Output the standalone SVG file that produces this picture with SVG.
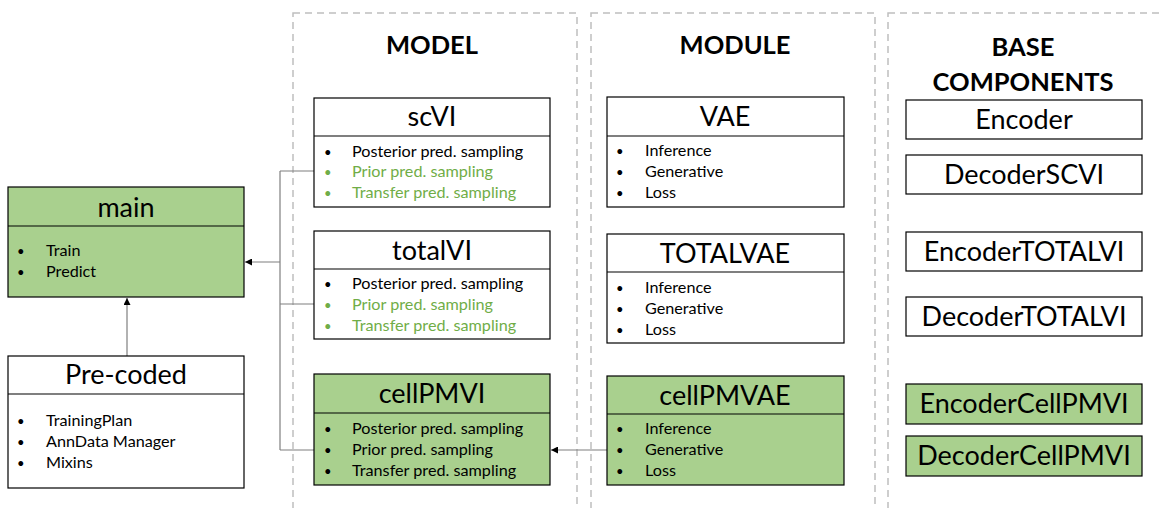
<svg xmlns="http://www.w3.org/2000/svg" width="1161" height="508" viewBox="0 0 1161 508">
<style>
text{font-family:"Lato","Open Sans","Liberation Sans",sans-serif;fill:#000}
.col{fill:none;stroke:#bfbfbf;stroke-width:1.5;stroke-dasharray:7 5}
.box{fill:#fff;stroke:#000;stroke-width:1.2}
.g{fill:#a9d08e}
.div{stroke:#000;stroke-width:1.2}
.hdr{font-size:25.5px;font-weight:bold;text-anchor:middle}
.ttl{font-size:27px;text-anchor:middle}
.it{font-size:16.2px}
.bu{font-size:13px}
.gt{fill:#70ad47}
.bt{font-size:27px;text-anchor:middle}
.cn{fill:none;stroke:#7f7f7f;stroke-width:1.2}
</style>
<defs>
<marker id="ah" viewBox="0 0 10 10" refX="10" refY="5" markerWidth="7" markerHeight="7" markerUnits="userSpaceOnUse" orient="auto">
<path d="M0,0 L10,5 L0,10 z" fill="#000"/>
</marker>
</defs>
<rect width="1161" height="508" fill="#fff"/>
<g id="columns">
<rect class="col" x="293" y="13" width="284" height="510"/>
<rect class="col" x="591" y="13" width="284" height="510"/>
<rect class="col" x="888" y="13" width="290" height="510"/>
<text class="hdr" x="432" y="54">MODEL</text>
<text class="hdr" x="735" y="54">MODULE</text>
<text class="hdr" x="1023" y="56">BASE</text>
<text class="hdr" x="1023" y="91">COMPONENTS</text>
</g>
<g id="connectors">
<path class="cn" d="M280,171 L280,450"/>
<path class="cn" d="M280,171 L314,171"/>
<path class="cn" d="M280,304 L314,304"/>
<path class="cn" d="M280,450 L314,450"/>
<path class="cn" d="M280,262 L245,262" marker-end="url(#ah)"/>
<path class="cn" d="M127,356 L127,298" marker-end="url(#ah)"/>
<path class="cn" d="M607,450 L551,450" marker-end="url(#ah)"/>
</g>
<g id="main">
<rect class="box g" x="8" y="187" width="236" height="110"/>
<line class="div" x1="8" y1="226" x2="244" y2="226"/>
<text class="ttl" x="126" y="217">main</text>
<text class="bu" x="17" y="256">•</text><text class="it" x="46" y="256">Train</text>
<text class="bu" x="17" y="277">•</text><text class="it" x="46" y="277">Predict</text>
</g>
<g id="precoded">
<rect class="box" x="8" y="356" width="236" height="132"/>
<line class="div" x1="8" y1="394" x2="244" y2="394"/>
<text class="ttl" x="126" y="384">Pre-coded</text>
<text class="bu" x="17" y="426">•</text><text class="it" x="46" y="426">TrainingPlan</text>
<text class="bu" x="17" y="447">•</text><text class="it" x="46" y="447">AnnData Manager</text>
<text class="bu" x="17" y="468">•</text><text class="it" x="46" y="468">Mixins</text>
</g>
<g id="scvi">
<rect class="box" x="314" y="98" width="236" height="109"/>
<line class="div" x1="314" y1="136" x2="550" y2="136"/>
<text class="ttl" x="432" y="126">scVI</text>
<text class="bu" x="324" y="157">•</text><text class="it" x="352" y="157">Posterior pred. sampling</text>
<text class="bu gt" x="324" y="177">•</text><text class="it gt" x="352" y="177">Prior pred. sampling</text>
<text class="bu gt" x="324" y="198">•</text><text class="it gt" x="352" y="198">Transfer pred. sampling</text>
</g>
<g id="totalvi">
<rect class="box" x="314" y="231" width="236" height="108"/>
<line class="div" x1="314" y1="269" x2="550" y2="269"/>
<text class="ttl" x="432" y="260">totalVI</text>
<text class="bu" x="324" y="289">•</text><text class="it" x="352" y="289">Posterior pred. sampling</text>
<text class="bu gt" x="324" y="310">•</text><text class="it gt" x="352" y="310">Prior pred. sampling</text>
<text class="bu gt" x="324" y="331">•</text><text class="it gt" x="352" y="331">Transfer pred. sampling</text>
</g>
<g id="cellpmvi">
<rect class="box g" x="314" y="374" width="236" height="111"/>
<line class="div" x1="314" y1="413" x2="550" y2="413"/>
<text class="ttl" x="432" y="403">cellPMVI</text>
<text class="bu" x="324" y="434">•</text><text class="it" x="352" y="434">Posterior pred. sampling</text>
<text class="bu" x="324" y="455">•</text><text class="it" x="352" y="455">Prior pred. sampling</text>
<text class="bu" x="324" y="476">•</text><text class="it" x="352" y="476">Transfer pred. sampling</text>
</g>
<g id="vae">
<rect class="box" x="607" y="97" width="237" height="110"/>
<line class="div" x1="607" y1="136" x2="844" y2="136"/>
<text class="ttl" x="725" y="126">VAE</text>
<text class="bu" x="616" y="156">•</text><text class="it" x="645" y="156">Inference</text>
<text class="bu" x="616" y="177">•</text><text class="it" x="645" y="177">Generative</text>
<text class="bu" x="616" y="198">•</text><text class="it" x="645" y="198">Loss</text>
</g>
<g id="totalvae">
<rect class="box" x="607" y="234" width="237" height="109"/>
<line class="div" x1="607" y1="272" x2="844" y2="272"/>
<text class="ttl" x="725" y="263">TOTALVAE</text>
<text class="bu" x="616" y="293">•</text><text class="it" x="645" y="293">Inference</text>
<text class="bu" x="616" y="314">•</text><text class="it" x="645" y="314">Generative</text>
<text class="bu" x="616" y="335">•</text><text class="it" x="645" y="335">Loss</text>
</g>
<g id="cellpmvae">
<rect class="box g" x="607" y="376" width="237" height="109"/>
<line class="div" x1="607" y1="414" x2="844" y2="414"/>
<text class="ttl" x="725" y="405">cellPMVAE</text>
<text class="bu" x="616" y="434">•</text><text class="it" x="645" y="434">Inference</text>
<text class="bu" x="616" y="455">•</text><text class="it" x="645" y="455">Generative</text>
<text class="bu" x="616" y="476">•</text><text class="it" x="645" y="476">Loss</text>
</g>
<g id="encoder">
<rect class="box" x="906" y="100" width="236" height="39"/>
<text class="bt" x="1024" y="129">Encoder</text>
</g>
<g id="decoderscvi">
<rect class="box" x="906" y="155" width="236" height="39"/>
<text class="bt" x="1024" y="184">DecoderSCVI</text>
</g>
<g id="encodertotalvi">
<rect class="box" x="906" y="232" width="236" height="39"/>
<text class="bt" x="1024" y="261">EncoderTOTALVI</text>
</g>
<g id="decodertotalvi">
<rect class="box" x="906" y="297" width="236" height="39"/>
<text class="bt" x="1024" y="326">DecoderTOTALVI</text>
</g>
<g id="encodercellpmvi">
<rect class="box g" x="906" y="384" width="236" height="40"/>
<text class="bt" x="1024" y="413">EncoderCellPMVI</text>
</g>
<g id="decodercellpmvi">
<rect class="box g" x="906" y="436" width="236" height="40"/>
<text class="bt" x="1024" y="465">DecoderCellPMVI</text>
</g>
</svg>
